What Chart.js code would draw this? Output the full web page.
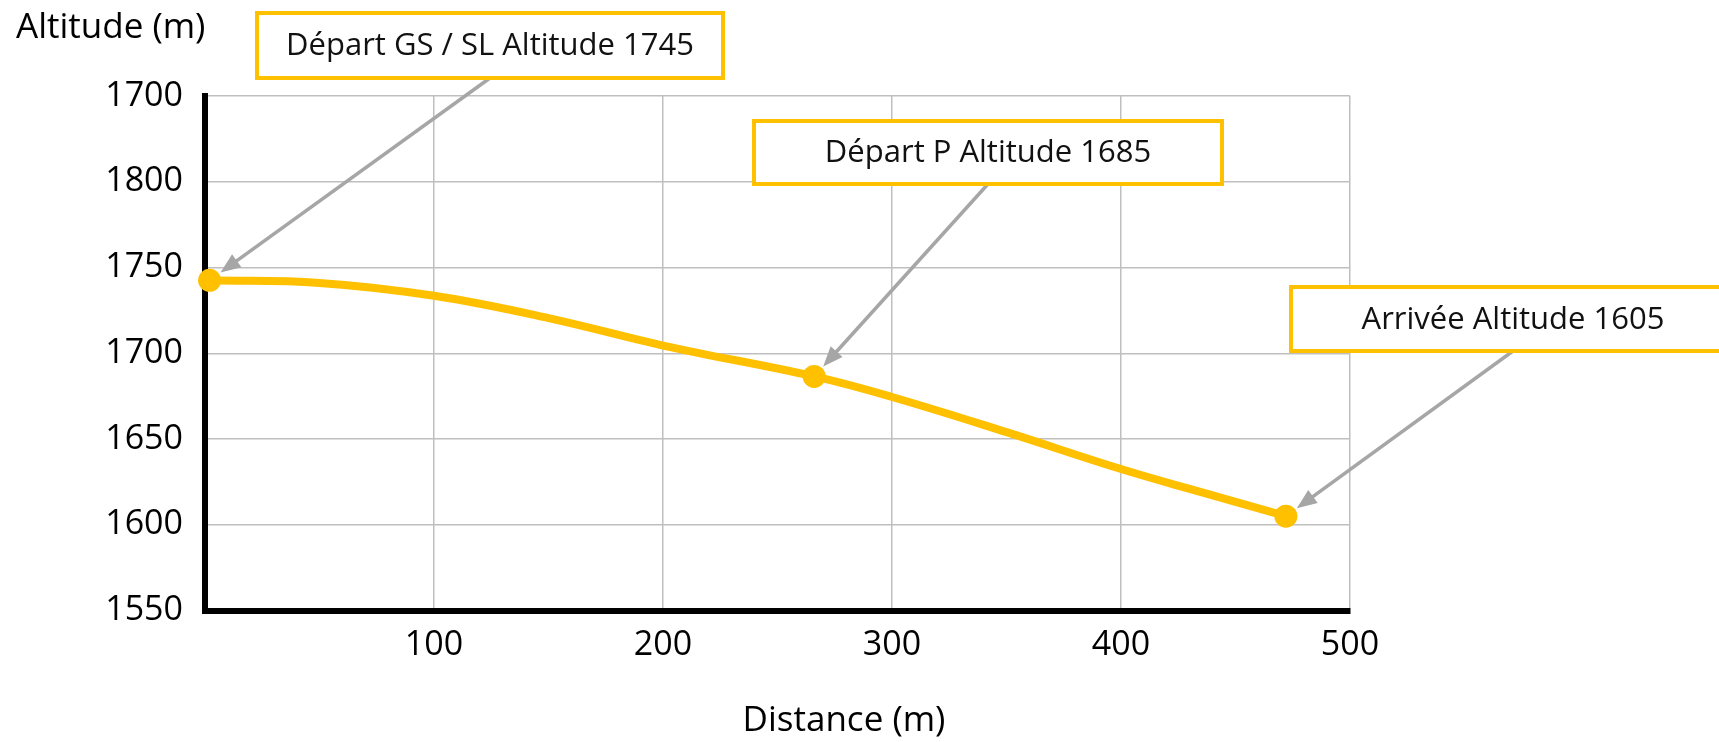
<!DOCTYPE html>
<html lang="fr">
<head>
<meta charset="utf-8">
<title>Profil altitude</title>
<script src="https://cdn.jsdelivr.net/npm/chart.js@4.4.1/dist/chart.umd.min.js"></script>
<style>
	html, body { margin: 0; padding: 0; background: #ffffff; }
	#wrap { width: 1719px; height: 742px; }
</style>
</head>
<body>
<div id="wrap"><canvas id="profileChart" width="1719" height="742"></canvas></div>
<script>
	// profil (distance en m, altitude en m)
	const profileDistance = [ 2, 50, 100, 150, 200, 266, 300, 350, 400, 435, 472 ];
	const profileAltitude = [ 1742.5, 1741, 1733.5, 1720.5, 1704.5, 1686.5, 1674.5, 1654, 1632.5, 1619, 1605 ];

	// points de depart / arrivee
	const stopDistance = [ 2, 266, 472 ];
	const stopAltitude = [ 1742.5, 1686.5, 1605 ];
	const stopLabels = [ 'Départ GS / SL Altitude 1745', 'Départ P Altitude 1685', 'Arrivée Altitude 1605' ];

	// graduations (le libelle du haut est bien "1700" sur l'original)
	const yTickValues = [ 1550, 1600, 1650, 1700, 1750, 1800, 1850 ];
	const yTickLabels = [ '1550', '1600', '1650', '1700', '1750', '1800', '1700' ];
	const xTickValues = [ 0, 100, 200, 300, 400, 500 ];
	const xTickLabels = [ '', '100', '200', '300', '400', '500' ];

	const yTitle = 'Altitude (m)';
	const xTitle = 'Distance (m)';

	(function () {
		'use strict';

		const fontFamily = "'Open Sans', 'Noto Sans', sans-serif";
		const yellow = '#FFC000';
		const arrowGrey = '#A6A6A6';
		const markerRadius = 11.5;

		// cadres des etiquettes (mise en page, px)
		const labelBoxes = [
			{ x: 257, y: 13, w: 466, h: 65 },
			{ x: 754, y: 121, w: 468, h: 63 },
			{ x: 1291, y: 287, w: 444, h: 64 },
		];

		const drawArrow = function (ctx, sx, sy, ex, ey) {
			const angle = Math.atan2(ey - sy, ex - sx);
			const tipX = ex - Math.cos(angle) * (markerRadius + 2);
			const tipY = ey - Math.sin(angle) * (markerRadius + 2);
			const headLen = 20;
			const headHalf = 8;
			const baseX = tipX - Math.cos(angle) * headLen;
			const baseY = tipY - Math.sin(angle) * headLen;

			ctx.strokeStyle = arrowGrey;
			ctx.fillStyle = arrowGrey;
			ctx.lineWidth = 3.5;
			ctx.beginPath();
			ctx.moveTo(sx, sy);
			ctx.lineTo(baseX + Math.cos(angle) * 4, baseY + Math.sin(angle) * 4);
			ctx.stroke();

			ctx.beginPath();
			ctx.moveTo(tipX, tipY);
			ctx.lineTo(baseX + Math.sin(angle) * headHalf, baseY - Math.cos(angle) * headHalf);
			ctx.lineTo(baseX - Math.sin(angle) * headHalf, baseY + Math.cos(angle) * headHalf);
			ctx.closePath();
			ctx.fill();
		}

		const annotationPlugin = {
			id: 'stopAnnotations',
			afterDatasetsDraw(chart) {
				const ctx = chart.ctx;
				const xScale = chart.scales.x;
				const yScale = chart.scales.y;
				ctx.save();

				stopDistance.forEach(function (dist, idx) {
					const box = labelBoxes[idx];
					const px = xScale.getPixelForValue(dist);
					const py = yScale.getPixelForValue(stopAltitude[idx]);
					drawArrow(ctx, box.x + box.w / 2, box.y + box.h, px, py);
				});

				stopLabels.forEach(function (label, idx) {
					const box = labelBoxes[idx];
					ctx.fillStyle = '#ffffff';
					ctx.fillRect(box.x, box.y, box.w, box.h);
					ctx.strokeStyle = yellow;
					ctx.lineWidth = 4;
					ctx.strokeRect(box.x, box.y, box.w, box.h);

					ctx.fillStyle = '#111111';
					ctx.font = '31px ' + fontFamily;
					ctx.textAlign = 'center';
					ctx.textBaseline = 'middle';
					ctx.fillText(label, box.x + box.w / 2, box.y + box.h / 2 + 1);
				});

				// titres des axes
				ctx.fillStyle = '#000000';
				ctx.font = '35px ' + fontFamily;
				ctx.textBaseline = 'middle';
				ctx.textAlign = 'left';
				ctx.fillText(yTitle, 16, 28);
				ctx.textAlign = 'center';
				ctx.fillText(xTitle, 844, 721);

				ctx.restore();
			}
		};

		const handleInitialChart = function () {
			const chart = document.getElementById('profileChart').getContext('2d');

			new Chart(chart, {
				type: 'line',
				data: {
					datasets: [
						{
							label: 'Arrêts',
							data: stopDistance.map((d, idx) => ({ x: d, y: stopAltitude[idx] })),
							showLine: false,
							pointRadius: markerRadius,
							pointBackgroundColor: yellow,
							pointBorderWidth: 0,
							clip: false,
							order: 0
						},
						{
							label: 'Profil',
							data: profileDistance.map((d, idx) => ({ x: d, y: profileAltitude[idx] })),
							borderColor: yellow,
							borderWidth: 8,
							pointRadius: 0,
							tension: 0.4,
							borderCapStyle: 'round',
							clip: false,
							order: 1
						},
					]
				},
				options: {
					responsive: false,
					animation: false,
					devicePixelRatio: 1,
					events: [],
					layout: {
						padding: {
							top: 96,
							right: 369,
							left: 0,
							bottom: 0
						}
					},
					plugins: {
						legend: { display: false },
						tooltip: { enabled: false },
						title: { display: false }
					},
					scales: {
						x: {
							type: 'linear',
							min: 0,
							max: 500,
							afterFit: function (scale) {
								scale.height = 131.5;
							},
							afterBuildTicks: function (scale) {
								scale.ticks = xTickValues.map(v => ({ value: v }));
							},
							grid: {
								color: '#BFBFBF',
								lineWidth: 1.5,
								drawTicks: false
							},
							border: {
								color: '#000000',
								width: 6
							},
							ticks: {
								color: '#000000',
								padding: 14,
								maxRotation: 0,
								font: { family: fontFamily, size: 34 },
								callback: function (value) {
									const idx = xTickValues.indexOf(value);
									return idx >= 0 ? xTickLabels[idx] : '';
								}
							}
						},
						y: {
							type: 'linear',
							min: 1550,
							max: 1850,
							afterFit: function (scale) {
								scale.width = 205;
							},
							afterBuildTicks: function (scale) {
								scale.ticks = yTickValues.map(v => ({ value: v }));
							},
							grid: {
								color: '#BFBFBF',
								lineWidth: 1.5,
								drawTicks: false
							},
							border: {
								color: '#000000',
								width: 6
							},
							ticks: {
								color: '#000000',
								padding: 22,
								font: { family: fontFamily, size: 34 },
								callback: function (value) {
									const idx = yTickValues.indexOf(value);
									return idx >= 0 ? yTickLabels[idx] : '';
								}
							}
						}
					}
				},
				plugins: [ annotationPlugin ]
			});
		}

		handleInitialChart();
	})();
</script>
</body>
</html>
